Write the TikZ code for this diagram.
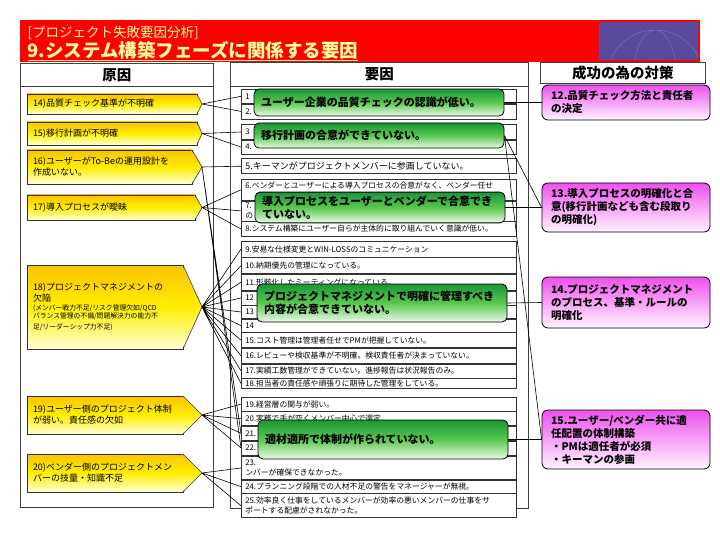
\documentclass[tikz,border=0pt]{standalone}
\usepackage{fontspec}
\setmainfont{Noto Sans CJK JP}
\usetikzlibrary{positioning}
\definecolor{BannerRed}{RGB}{255,0,0}
\definecolor{TitleYellow}{RGB}{255,255,153}
\definecolor{GlobePurple}{RGB}{90,74,158}
\definecolor{GlobeLine}{RGB}{125,110,185}
\definecolor{CauseTop}{RGB}{250,195,0}
\definecolor{CauseMid}{RGB}{255,238,0}
\definecolor{CauseBot}{RGB}{255,255,215}
\definecolor{IssueTop}{RGB}{25,150,55}
\definecolor{IssueMid}{RGB}{90,200,80}
\definecolor{IssueBot}{RGB}{235,250,230}
\definecolor{MeasTop}{RGB}{238,80,238}
\definecolor{MeasBot}{RGB}{255,245,255}
% pointer of a cause box: #1 node, #2 pointer length
\newcommand{\geninsaki}[2]{%
	\shade[top color=CauseTop, bottom color=CauseBot, middle color=CauseMid]
		([xshift=-#2-0.8pt]#1.north east) -- (#1.east) -- ([xshift=-#2-0.8pt]#1.south east) -- cycle;
	\draw[black!80, line width=0.6pt] ([xshift=-#2]#1.north east) -- (#1.east) -- ([xshift=-#2]#1.south east);}

\begin{document}
\begin{tikzpicture}[x=1pt, y=-1pt,
	waku/.style={draw=black!75, line width=0.9pt, fill=white, inner sep=0pt, anchor=north west},
	midashiwaku/.style={waku, font=\bfseries\fontsize{14.5}{16}\selectfont},
	genin/.style={rectangle, draw=black!80, line width=0.6pt, top color=CauseTop, bottom color=CauseBot,
		middle color=CauseMid, align=left, inner xsep=6pt, inner ysep=2pt, outer ysep=0pt, anchor=east,
		font=\fontsize{9}{11}\selectfont},
	youin/.style={draw=black!80, line width=0.6pt, fill=white, text width=267pt, inner xsep=4pt,
		inner ysep=0pt, align=left, font=\fontsize{7.8}{9.5}\selectfont},
	kadai/.style={rounded corners=5pt, draw=black, line width=0.8pt, top color=IssueTop,
		bottom color=IssueBot, middle color=IssueMid, text width=236pt, inner xsep=7pt, align=left,
		font=\bfseries\fontsize{11}{13.5}\selectfont},
	taisaku/.style={rounded corners=6pt, draw=black, line width=0.8pt, top color=MeasTop,
		bottom color=MeasBot, text width=150pt, inner xsep=9pt, align=left,
		font=\bfseries\fontsize{10.5}{13}\selectfont},
	sen/.style={draw=black, line width=0.6pt}]
	\useasboundingbox (0,0) rectangle (720,540);
	% banner
	\fill[BannerRed] (20,20) rectangle (700,62);
	\fill[GlobePurple] (599,22) rectangle (698,60);
	\begin{scope}
		\clip (599,22) rectangle (698,60);
		\draw[GlobeLine, line width=0.5pt] (655,78) circle (48) (655,78) ellipse (22 and 48) (655,78) ellipse (48 and 18);
	\end{scope}
	\node[anchor=west, text=TitleYellow, font=\fontsize{13.5}{16}\selectfont] (bunseki) at (24,33) {[プロジェクト失敗要因分析]};
	\node[anchor=west, text=TitleYellow, font=\bfseries\fontsize{18.5}{22}\selectfont] (midashi) at (24,51) {\underline{9.システム構築フェーズに関係する要因}};
	% columns
	\node[waku, minimum width=193pt, minimum height=444pt] (hidari) at (20,63) {};
	\node[midashiwaku, minimum width=193pt, minimum height=23pt] (geninh) at (20,63) {原因};
	\node[waku, minimum width=298pt, minimum height=446pt] (naka) at (230,62) {};
	\node[midashiwaku, minimum width=298pt, minimum height=24pt] (youinh) at (230,62) {要因};
	\node[midashiwaku, minimum width=165pt, minimum height=21pt] (taisakuh) at (540,62) {成功の為の対策};
	% items
	\node[youin, anchor=north west, minimum height=14pt] (i1) at (241,89) {1};
	\node[youin, minimum height=15pt, below=0pt of i1] (i2) {2.};
	\node[youin, minimum height=15pt, below=5pt of i2] (i3) {3};
	\node[youin, minimum height=14pt, below=0pt of i3] (i4) {4.};
	\node[youin, minimum height=15pt, below=4pt of i4, font=\fontsize{9}{11}\selectfont] (i5) {5.キーマンがプロジェクトメンバーに参画していない。};
	\node[youin, minimum height=21pt, below=5pt of i5] (i6) {6.ベンダーとユーザーによる導入プロセスの合意がなく、ベンダー任せ\\\mbox{}};
	\node[youin, minimum height=20pt, below=0pt of i6] (i7) {7.\\の};
	\node[youin, minimum height=15pt, below=0pt of i7] (i8) {8.システム構築にユーザー自らが主体的に取り組んでいく意識が低い。};
	\node[youin, minimum height=16pt, below=4pt of i8] (i9) {9.安易な仕様変更とWIN-LOSSのコミュニケーション};
	\node[youin, minimum height=16pt, below=0pt of i9] (i10) {10.納期優先の管理になっている。};
	\node[youin, minimum height=16pt, below=0pt of i10] (i11) {11.形骸化したミーティングになっている。};
	\node[youin, minimum height=14pt, below=0pt of i11] (i12) {12};
	\node[youin, minimum height=13pt, below=0pt of i12] (i13) {13};
	\node[youin, minimum height=13pt, below=0pt of i13] (i14) {14};
	\node[youin, minimum height=15pt, below=0pt of i14] (i15) {15.コスト管理は管理者任せでPMが把握していない。};
	\node[youin, minimum height=15pt, below=0pt of i15] (i16) {16.レビューや検収基準が不明確。検収責任者が決まっていない。};
	\node[youin, minimum height=14pt, below=0pt of i16] (i17) {17.実績工数管理ができていない。進捗報告は状況報告のみ。};
	\node[youin, minimum height=10pt, below=0pt of i17] (i18) {18.担当者の責任感や頑張りに期待した管理をしている。};
	\node[youin, minimum height=14pt, below=8pt of i18] (i19) {19.経営層の関与が弱い。};
	\node[youin, minimum height=14pt, below=0pt of i19] (i20) {20.実務で手が空くメンバー中心で選定};
	\node[youin, minimum height=14pt, below=0pt of i20] (i21) {21.};
	\node[youin, minimum height=14pt, below=0pt of i21] (i22) {22.};
	\node[youin, minimum height=23pt, below=1pt of i22] (i23) {23.\\ンバーが確保できなかった。};
	\node[youin, minimum height=13pt, below=0pt of i23] (i24) {24.プランニング段階での人材不足の警告をマネージャーが無視。};
	\node[youin, minimum height=24pt, below=0pt of i24] (i25) {25.効率良く仕事をしているメンバーが効率の悪いメンバーの仕事をサ\\ポートする配慮がされなかった。};
	% causes: east anchor is the tip (outer xsep = pointer length)
	\node[genin, minimum height=20pt, text width=158pt, outer xsep=5pt] (c14) at (202,104) {14)品質チェック基準が不明確};
	\node[genin, minimum height=23pt, text width=158pt, outer xsep=5pt] (c15) at (202,133.5) {15)移行計画が不明確};
	\node[genin, minimum height=34pt, text width=153pt, outer xsep=10pt] (c16) at (202,167) {16)ユーザーがTo-Beの運用設計を\\作成いない。};
	\node[genin, minimum height=25pt, text width=156pt, outer xsep=7pt] (c17) at (202,207.5) {17)導入プロセスが曖昧};
	\node[genin, minimum height=84pt, text width=144pt, outer xsep=19pt] (c18) at (202,307) {18)プロジェクトマネジメントの\\欠陥\\{\fontsize{6.8}{8.5}\selectfont (メンバー戦力不足/リスク管理欠如/QCD\\バランス管理の不備/問題解決力の能力不\\足/リーダーシップ力不足)}};
	\node[genin, minimum height=38pt, text width=144pt, outer xsep=19pt] (c19) at (202,415) {19)ユーザー側のプロジェクト体制\\が弱い。責任感の欠如};
	\node[genin, minimum height=38pt, text width=144pt, outer xsep=19pt] (c20) at (202,473) {20)ベンダー側のプロジェクトメン\\バーの技量・知識不足};
	\geninsaki{c14}{5pt}
	\geninsaki{c15}{5pt}
	\geninsaki{c16}{10pt}
	\geninsaki{c17}{7pt}
	\geninsaki{c18}{19pt}
	\geninsaki{c19}{19pt}
	\geninsaki{c20}{19pt}
	% cause -> factor
	\draw[sen] (c14.east) -- (i1.west) (c14.east) -- (i2.west);
	\draw[sen] (c15.east) -- (i3.west) (c15.east) -- (i4.west);
	\draw[sen] (c16.east) -- (i5.west) (c16.east) -- (i21.west) (c16.east) -- (i22.west);
	\draw[sen] (c17.east) -- (i6.west) (c17.east) -- (i7.west) (c17.east) -- (i8.west);
	\draw[sen] (c18.east) -- (i9.west) (c18.east) -- (i10.west) (c18.east) -- (i11.west)
		(c18.east) -- (i12.west) (c18.east) -- (i13.west) (c18.east) -- (i14.west)
		(c18.east) -- (i15.west) (c18.east) -- (i16.west) (c18.east) -- (i17.west) (c18.east) -- (i18.west);
	\draw[sen] (c19.east) -- (i19.west) (c19.east) -- (i20.west) (c19.east) -- (i21.west) (c19.east) -- (i22.west);
	\draw[sen] (c20.east) -- (i23.west) (c20.east) -- (i24.west) (c20.east) -- (i25.west);
	% issues
	\node[kadai, minimum height=27pt] (hinshitsu) at (379,102.5) {ユーザー企業の品質チェックの認識が低い。};
	\node[kadai, minimum height=25pt] (ikou) at (379,135.5) {移行計画の合意ができていない。};
	\node[kadai, minimum height=29pt] (dounyu) at (380,207.5) {導入プロセスをユーザーとベンダーで合意でき\\ていない。};
	\node[kadai, minimum height=38pt] (kanri) at (382,303) {プロジェクトマネジメントで明確に管理すべき\\内容が合意できていない。};
	\node[kadai, minimum height=39pt] (taisei) at (383,439.5) {適材適所で体制が作られていない。};
	% measures
	\node[taisaku, minimum height=35pt] (m12) at (626,102.5) {12.品質チェック方法と責任者\\の決定};
	\node[taisaku, minimum height=49pt] (m13) at (626,207.5) {13.導入プロセスの明確化と合\\意(移行計画なども含む段取り\\の明確化)};
	\node[taisaku, minimum height=51pt] (m14) at (626,302.5) {14.プロジェクトマネジメント\\のプロセス、基準・ルールの\\明確化};
	\node[taisaku, minimum height=59pt] (m15) at (626,439.5) {15.ユーザー/ベンダー共に適\\任配置の体制構築\\・PMは適任者が必須\\・キーマンの参画};
	% issue -> measure
	\draw[sen] (hinshitsu.east) -- (m12.west);
	\draw[sen] (ikou.east) -- (m13.west) (ikou.east) -- (m15.west);
	\draw[sen] (dounyu.east) -- (m13.west);
	\draw[sen] (kanri.east) -- (m14.west);
	\draw[sen] (taisei.east) -- (m15.west);
\end{tikzpicture}
\end{document}
